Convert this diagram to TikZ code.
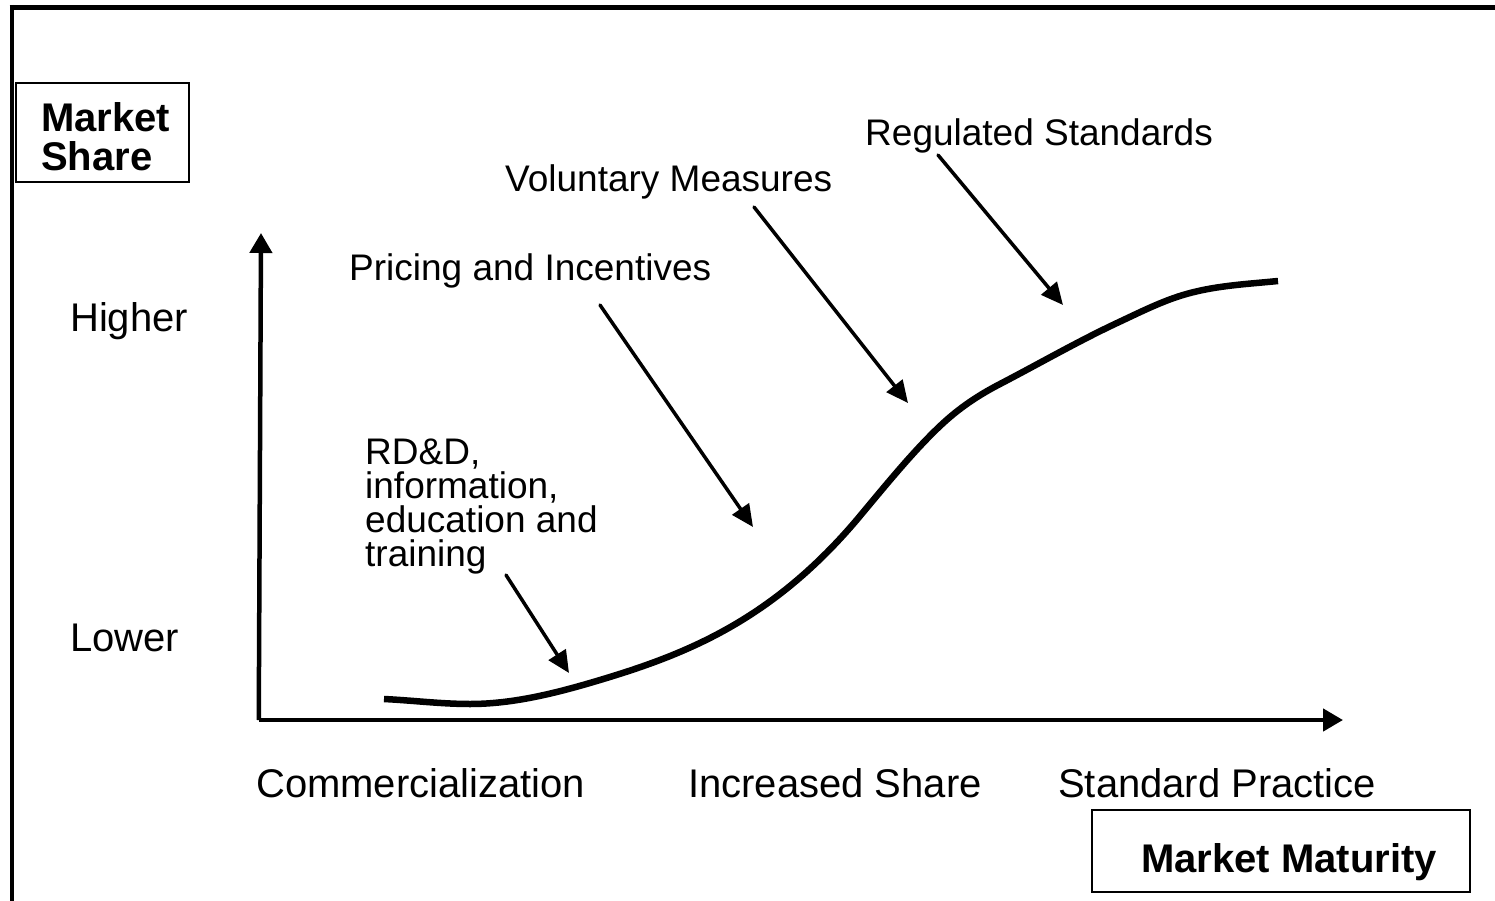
\documentclass[tikz,border=0pt]{standalone}
\usepackage{fontspec}
\setmainfont{Liberation Sans}
\usetikzlibrary{arrows.meta}
\begin{document}
\begin{tikzpicture}[x=1pt,y=-1pt,
  axislabel/.style={anchor=base west,inner sep=0pt,font=\fontsize{40}{46}\selectfont},
  annot/.style={anchor=base west,inner sep=0pt,font=\fontsize{37}{34}\selectfont,align=left},
  boldlabel/.style={anchor=base west,inner sep=0pt,font=\fontsize{40}{39}\selectfont\bfseries,align=left},
  labelbox/.style={draw,line width=1.6pt},
  axisline/.style={line width=4.5pt,-{Triangle[length=20pt,width=22pt]}},
  pointer/.style={line width=3.5pt,line cap=round,-{Triangle[length=22pt,width=20pt]}},
  curve/.style={line width=6.5pt}]
\useasboundingbox (0,0) rectangle (1495,901);
% frame
\draw[line width=5pt] (9.5,7.5) -- (1495,7.5);
\draw[line width=4.5pt] (12,5) -- (12,901);
% boxes
\draw[labelbox] (16,83) rectangle (189,182);
\node[boldlabel] (ms1) at (41,132) {Market};
\node[boldlabel] (ms2) at (41,171) {Share};
\draw[labelbox] (1092,810) rectangle (1470,892);
\node[boldlabel] (mm) at (1141,872) {Market Maturity};
% axes
\coordinate (origin) at (261,720);
\coordinate (ytip) at (261,233);
\coordinate (xtip) at (1343,720);
\draw[axisline] (258.75,720) -- (ytip);
\draw[axisline] (origin) ++(-2.25,0) -- (xtip);
% axis labels
\node[axislabel] (hi) at (70,331) {Higher};
\node[axislabel] (lo) at (70,651) {Lower};
\node[axislabel] (c1) at (256,797) {Commercialization};
\node[axislabel] (c2) at (688,797) {Increased Share};
\node[axislabel] (c3) at (1058,797) {Standard Practice};
% curve
\draw[curve] (384,699) .. controls (412.7,700.4) and (441.3,704) .. (470,704)
  .. controls (513.3,704) and (556.7,693) .. (600,680)
  .. controls (686.7,654) and (773.3,620) .. (860,516)
  .. controls (886.7,484) and (913.3,451.3) .. (940,426)
  .. controls (960,407) and (980,394.4) .. (1000,384)
  .. controls (1039,363.7) and (1078,341.3) .. (1117,323)
  .. controls (1139,312.7) and (1161,301.6) .. (1183,295)
  .. controls (1214.7,285.5) and (1246.3,284.2) .. (1278,281);
% annotations
\node[annot] (t1) at (865,146) {Regulated Standards};
\node[annot] (t2) at (505,192) {Voluntary Measures};
\node[annot] (t3) at (349,280) {Pricing and Incentives};
\node[annot] (t4) at (365,566) {RD\&D,\\information,\\education and\\training};
\coordinate (a1s) at (938,155);
\coordinate (a1e) at (1063,305);
\coordinate (a2s) at (754,207);
\coordinate (a2e) at (908,403);
\coordinate (a3s) at (600,305);
\coordinate (a3e) at (753,527);
\coordinate (a4s) at (506,575);
\coordinate (a4e) at (569,673);
\draw[pointer] (a1s) -- (a1e);
\draw[pointer] (a2s) -- (a2e);
\draw[pointer] (a3s) -- (a3e);
\draw[pointer] (a4s) -- (a4e);
\end{tikzpicture}
\end{document}
